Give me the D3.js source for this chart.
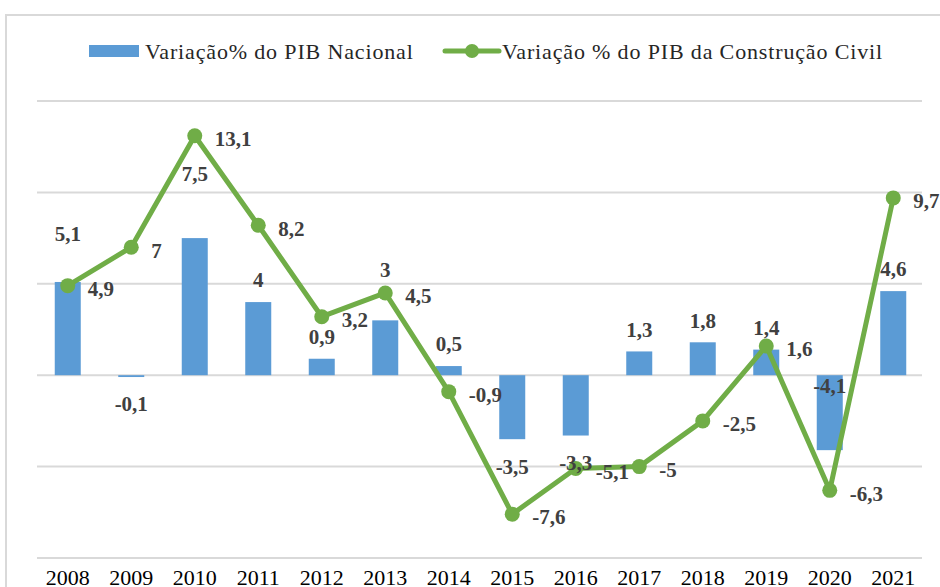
<!DOCTYPE html>
<html><head>
<meta charset="utf-8">
<title>PIB Nacional x Construção Civil</title>
<script src="https://cdnjs.cloudflare.com/ajax/libs/d3/7.8.5/d3.min.js"></script>
<style>
body { margin: 0; background: #fff; }
</style>
</head>
<body>
<div class="chart"></div>
<script>
const years = ["2008","2009","2010","2011","2012","2013","2014","2015","2016","2017","2018","2019","2020","2021"];
const pibNacional = [5.1, -0.1, 7.5, 4, 0.9, 3, 0.5, -3.5, -3.3, 1.3, 1.8, 1.4, -4.1, 4.6];
const pibConstrucao = [4.9, 7, 13.1, 8.2, 3.2, 4.5, -0.9, -7.6, -5.1, -5, -2.5, 1.6, -6.3, 9.7];
const yTicks = [-10, -5, 0, 5, 10, 15];
const seriesNames = ["Variação% do PIB Nacional", "Variação % do PIB da Construção Civil"];

// hand-placed bar labels in the original, extra vertical shift in px
const barLabelShift = {"2008": -26, "2010": -42, "2013": -29, "2020": -91};

const W = 940, H = 587;
const blue = "#5b9bd5", green = "#70ad47", grid = "#d9d9d9", ink = "#404040";
const serif = "'Liberation Serif'";

const svg = d3.select(".chart").append("svg")
    .attr("width", W).attr("height", H)
    .style("display", "block");

// outer frame (top + left edge visible)
svg.append("path")
    .attr("d", "M6,587 V15 H940")
    .attr("fill", "none").attr("stroke", grid).attr("stroke-width", 2);

const x = d3.scaleBand().domain(years).range([36, 925]);
const y = d3.scaleLinear().domain([-10, 15]).range([558, 101]);
const fmt = v => String(v).replace(".", ",");

svg.append("g").selectAll("line")
  .data(yTicks)
  .join("line")
    .attr("x1", 37).attr("x2", 922)
    .attr("y1", d => y(d)).attr("y2", d => y(d))
    .attr("stroke", grid).attr("stroke-width", 2);

const bw = 26;
svg.append("g").selectAll("rect")
  .data(pibNacional)
  .join("rect")
    .attr("x", (d, i) => x(years[i]) + x.bandwidth() / 2 - bw / 2)
    .attr("width", bw)
    .attr("y", d => y(Math.max(0, d)))
    .attr("height", d => Math.abs(y(d) - y(0)))
    .attr("fill", blue);

const cx = i => x(years[i]) + x.bandwidth() / 2;

const line = d3.line()
    .x((d, i) => cx(i))
    .y(d => y(d));

svg.append("path")
    .datum(pibConstrucao)
    .attr("d", line)
    .attr("fill", "none")
    .attr("stroke", green)
    .attr("stroke-width", 5)
    .attr("stroke-linejoin", "round");

svg.append("g").selectAll("circle")
  .data(pibConstrucao)
  .join("circle")
    .attr("cx", (d, i) => cx(i))
    .attr("cy", d => y(d))
    .attr("r", 7.5)
    .attr("fill", green);

// bar labels
svg.append("g")
  .selectAll("text")
  .data(pibNacional)
  .join("text")
    .style("font-family", serif)
    .attr("font-size", 21).attr("font-weight", "bold").attr("fill", ink)
    .attr("text-anchor", "middle")
    .attr("x", (d, i) => cx(i))
    .attr("y", (d, i) => (d >= 0 ? y(d) - 22 : y(d) + 27) + (barLabelShift[years[i]] || 0))
    .attr("dy", "0.35em")
    .text(d => fmt(d));

// line labels
svg.append("g")
  .selectAll("text")
  .data(pibConstrucao)
  .join("text")
    .style("font-family", serif)
    .attr("font-size", 21).attr("font-weight", "bold").attr("fill", ink)
    .attr("x", (d, i) => cx(i) + 20)
    .attr("y", d => y(d) + 3)
    .attr("dy", "0.35em")
    .text(d => fmt(d));

// x axis labels
const xAxis = d3.axisBottom(x).tickSize(0).tickPadding(0);
svg.append("g")
    .attr("transform", "translate(0,569)")
    .call(xAxis)
    .call(g => g.select(".domain").remove())
    .call(g => g.selectAll("text")
        .style("font-family", serif)
        .style("font-size", "22px")
        .attr("fill", "#000").attr("dy", "0.71em"));

// legend
const lg = svg.append("g");
lg.append("rect").attr("x", 89).attr("y", 45).attr("width", 50).attr("height", 12).attr("fill", blue);
lg.append("text").attr("x", 145).attr("y", 59).text(seriesNames[0]);
lg.append("line").attr("x1", 445).attr("x2", 499).attr("y1", 51).attr("y2", 51)
    .attr("stroke", green).attr("stroke-width", 5).attr("stroke-linecap", "round");
lg.append("circle").attr("cx", 472).attr("cy", 51).attr("r", 7).attr("fill", green);
lg.append("text").attr("x", 502).attr("y", 59).text(seriesNames[1]);
lg.selectAll("text").style("font-family", serif).style("letter-spacing", "0.85px")
    .attr("font-size", 22).attr("fill", "#262626");
</script>
</body>
</html>
